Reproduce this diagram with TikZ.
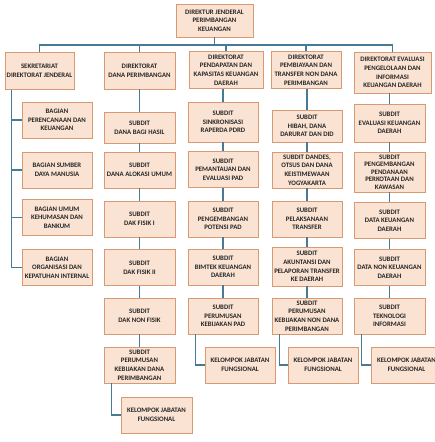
\documentclass[tikz,border=0pt]{standalone}
\usepackage{fontspec}
\setmainfont{Carlito}
\usetikzlibrary{positioning,calc}
\definecolor{boxf}{HTML}{FBE3D3}
\definecolor{boxd}{HTML}{D89A72}
\definecolor{lnc}{HTML}{477A97}

\begin{document}
\begin{tikzpicture}[x=1pt, y=-1pt, font=\fontsize{6.8}{8.6}\selectfont\bfseries,
  box/.style={draw=boxd, fill=boxf, line width=0.8pt, minimum width=71pt,
    minimum height=36pt, align=center, inner sep=0pt, text=black!85},
  ln/.style={draw=lnc, line width=1.6pt}]
\clip (0,0) rectangle (435,442);
\node[box, minimum width=77pt, minimum height=33pt] (dirjen) at (214.5,20.5) {DIREKTUR JENDERAL\\PERIMBANGAN\\KEUANGAN};
% direktorat
\node[box, minimum width=69pt, minimum height=37pt] (setdj) at (39.5,71) {SEKRETARIAT\\DIREKTORAT JENDERAL};
\node[box, minimum height=37pt] (dp) at (139.5,70.5) {DIREKTORAT\\DANA PERIMBANGAN};
\node[box, minimum width=74pt, minimum height=37pt] (pkd) at (226,70) {DIREKTORAT\\PENDAPATAN DAN\\KAPASITAS KEUANGAN\\DAERAH};
\node[box, minimum width=70pt, minimum height=37pt] (ptn) at (306,70) {DIREKTORAT\\PEMBIAYAAN DAN\\TRANSFER NON DANA\\PERIMBANGAN};
\node[box, minimum width=77pt, minimum height=41pt] (ev) at (392.5,72.5) {DIREKTORAT EVALUASI\\PENGELOLAAN DAN\\INFORMASI\\KEUANGAN DAERAH};
% sekretariat
\node[box, minimum width=70pt] (bag1) at (57,120) {BAGIAN\\PERENCANAAN DAN\\KEUANGAN};
\node[box, minimum width=70pt] (bag2) at (57,170) {BAGIAN SUMBER\\DAYA MANUSIA};
\node[box, minimum width=70pt] (bag3) at (57,217.5) {BAGIAN UMUM\\KEHUMASAN DAN\\BANKUM};
\node[box, minimum width=70pt] (bag4) at (57,267.5) {BAGIAN\\ORGANISASI DAN\\KEPATUHAN INTERNAL};
% dana perimbangan
\node[box, minimum height=31pt] (dp1) at (139.5,127.5) {SUBDIT\\DANA BAGI HASIL};
\node[box] (dp2) at (139.5,170) {SUBDIT\\DANA ALOKASI UMUM};
\node[box] (dp3) at (139.5,219) {SUBDIT\\DAK FISIK I};
\node[box] (dp4) at (139.5,267.5) {SUBDIT\\DAK FISIK II};
\node[box] (dp5) at (139.5,316) {SUBDIT\\DAK NON FISIK};
\node[box] (dp6) at (139.5,365) {SUBDIT\\PERUMUSAN\\KEBIJAKAN DANA\\PERIMBANGAN};
\node[box] (kdp) at (156.5,415) {KELOMPOK JABATAN\\FUNGSIONAL};
% pendapatan dan kapasitas keuangan daerah
\node[box, minimum width=70pt, minimum height=40pt] (pkd1) at (223,122) {SUBDIT\\SINKRONISASI\\RAPERDA PDRD};
\node[box, minimum width=70pt] (pkd2) at (223,169.5) {SUBDIT\\PEMANTAUAN DAN\\EVALUASI PAD};
\node[box, minimum width=70pt] (pkd3) at (223,219) {SUBDIT\\PENGEMBANGAN\\POTENSI PAD};
\node[box, minimum width=70pt] (pkd4) at (223,267) {SUBDIT\\BIMTEK KEUANGAN\\DAERAH};
\node[box, minimum width=70pt] (pkd5) at (223,316) {SUBDIT\\PERUMUSAN\\KEBIJAKAN PAD};
\node[box, minimum width=70pt] (kpkd) at (240,365) {KELOMPOK JABATAN\\FUNGSIONAL};
% pembiayaan dan transfer non dana perimbangan
\node[box, minimum width=70pt, minimum height=32pt] (ptn1) at (307,126) {SUBDIT\\HIBAH, DANA\\DARURAT DAN DID};
\node[box, minimum width=70pt] (ptn2) at (307,170) {SUBDIT DANDES,\\OTSUS DAN DANA\\KEISTIMEWAAN\\YOGYAKARTA};
\node[box, minimum width=70pt] (ptn3) at (307,219) {SUBDIT\\PELAKSANAAN\\TRANSFER};
\node[box, minimum width=70pt, minimum height=39pt] (ptn4) at (307,266.5) {SUBDIT\\AKUNTANSI DAN\\PELAPORAN TRANSFER\\KE DAERAH};
\node[box, minimum width=70pt] (ptn5) at (307,316) {SUBDIT\\PERUMUSAN\\KEBIJAKAN NON DANA\\PERIMBANGAN};
\node[box, minimum width=70pt] (kptn) at (323,365) {KELOMPOK JABATAN\\FUNGSIONAL};
% evaluasi pengelolaan dan informasi keuangan daerah
\node[box, minimum height=38pt] (ev1) at (389.5,123) {SUBDIT\\EVALUASI KEUANGAN\\DAERAH};
\node[box, minimum height=40pt, font=\fontsize{6.8}{7.6}\selectfont\bfseries] (ev2) at (389.5,172) {SUBDIT\\PENGEMBANGAN\\PENDANAAN\\PERKOTAAN DAN\\KAWASAN};
\node[box] (ev3) at (389.5,220.5) {SUBDIT\\DATA KEUANGAN\\DAERAH};
\node[box] (ev4) at (389.5,267.5) {SUBDIT\\DATA NON KEUANGAN\\DAERAH};
\node[box] (ev5) at (389.5,316) {SUBDIT\\TEKNOLOGI\\INFORMASI};
\node[box] (kev) at (406.5,365) {KELOMPOK JABATAN\\FUNGSIONAL};
% garis
\coordinate (bus) at (214.5,45);
\draw[ln] (dirjen.south) -- (bus);
\foreach \d in {setdj,dp,pkd,ptn,ev}\draw[ln] (\d.north) |- (bus);
\foreach \a/\b in {dp/dp1,dp1/dp2,dp2/dp3,dp3/dp4,dp4/dp5,dp5/dp6,
  pkd/pkd1,pkd1/pkd2,pkd2/pkd3,pkd3/pkd4,pkd4/pkd5,
  ptn/ptn1,ptn1/ptn2,ptn2/ptn3,ptn3/ptn4,ptn4/ptn5,
  ev/ev1,ev1/ev2,ev2/ev3,ev3/ev4,ev4/ev5}\draw[ln] (\b.north) -- (\b.north |- \a.south);
\coordinate (sp) at ($(setdj.south west)+(7,0)$);
\foreach \b in {bag1,bag2,bag3,bag4}\draw[ln] (sp) |- (\b.west);
\foreach \a/\b in {dp6/kdp,pkd5/kpkd,ptn5/kptn,ev5/kev}\draw[ln] ($(\a.south west)+(8,0)$) |- (\b.west);
\end{tikzpicture}
\end{document}
